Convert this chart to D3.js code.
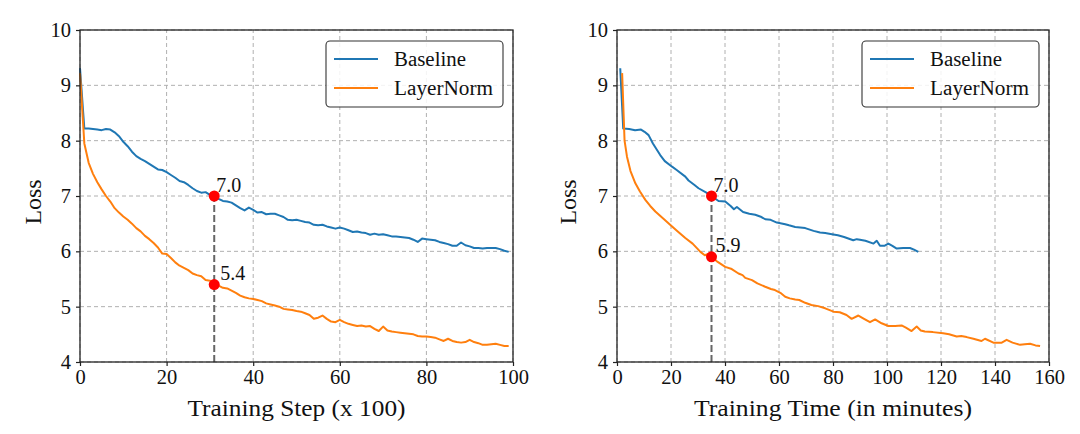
<!DOCTYPE html>
<html>
<head>
<meta charset="utf-8">
<script src="https://cdn.jsdelivr.net/npm/d3@7"></script>
<style>
  html, body { margin: 0; padding: 0; background: #fff; }
  svg { display: block; }
  text { font-family: "Liberation Serif", "Times New Roman", serif; fill: #111; }
</style>
</head>
<body>
<svg id="chart" width="1080" height="434"></svg>
<script>
// ---------------- DATA ----------------
const seriesNames = ["Baseline", "LayerNorm"];
const seriesColors = ["#1f77b4", "#ff7f0e"];
const yTicks = [4, 5, 6, 7, 8, 9, 10];
const stepTicks = [0, 20, 40, 60, 80, 100];
const timeTicks = [0, 20, 40, 60, 80, 100, 120, 140, 160];
const stepLabel = "Training Step (x 100)";
const timeLabel = "Training Time (in minutes)";
const yLabel = "Loss";

// Left panel: loss per step index (x 100)
const baselineByStep = [
  9.31, 8.22, 8.22, 8.21, 8.20, 8.19, 8.21, 8.20, 8.15, 8.08,
  7.98, 7.90, 7.80, 7.72, 7.67, 7.63, 7.58, 7.53, 7.48, 7.47,
  7.43, 7.38, 7.33, 7.27, 7.25, 7.20, 7.14, 7.09, 7.06, 7.07,
  7.02, 7.00, 6.95, 6.91, 6.90, 6.88, 6.83, 6.78, 6.74, 6.79,
  6.75, 6.70, 6.71, 6.67, 6.68, 6.68, 6.65, 6.62, 6.57, 6.56,
  6.57, 6.55, 6.53, 6.52, 6.48, 6.47, 6.48, 6.45, 6.43, 6.41,
  6.43, 6.41, 6.38, 6.35, 6.36, 6.34, 6.33, 6.30, 6.32, 6.30,
  6.31, 6.29, 6.27, 6.27, 6.26, 6.25, 6.24, 6.21, 6.17, 6.23,
  6.22, 6.21, 6.20, 6.17, 6.15, 6.13, 6.10, 6.10, 6.16, 6.11,
  6.09, 6.06, 6.06, 6.05, 6.06, 6.06, 6.06, 6.04, 6.01, 5.99
];
const layerNormByStep = [
  9.22, 7.95, 7.60, 7.40, 7.25, 7.12, 7.00, 6.90, 6.78, 6.70,
  6.63, 6.57, 6.50, 6.42, 6.36, 6.28, 6.22, 6.15, 6.07, 5.96,
  5.95, 5.88, 5.80, 5.74, 5.70, 5.66, 5.60, 5.57, 5.55, 5.48,
  5.47, 5.42, 5.38, 5.34, 5.33, 5.29, 5.25, 5.20, 5.17, 5.15,
  5.14, 5.12, 5.10, 5.06, 5.04, 5.02, 5.00, 4.96, 4.95, 4.94,
  4.92, 4.91, 4.88, 4.85, 4.78, 4.80, 4.84, 4.78, 4.73, 4.72,
  4.76, 4.72, 4.69, 4.67, 4.65, 4.66, 4.64, 4.65, 4.60, 4.56,
  4.64, 4.57, 4.55, 4.54, 4.53, 4.52, 4.51, 4.50, 4.47, 4.46,
  4.46, 4.45, 4.44, 4.41, 4.38, 4.42, 4.38, 4.36, 4.35, 4.36,
  4.40, 4.36, 4.34, 4.31, 4.31, 4.32, 4.33, 4.31, 4.29, 4.29
];

// Right panel: (minutes, loss)
const baselineMinutes = [
  1.2, 2.3, 4.5, 6.7, 8.9, 10.2, 11.7, 13.3, 16.0, 17.7, 20.4, 22.1, 25.3, 26.5, 28.7, 30.2,
  33.1, 35.0, 37.6, 40.1, 42.1, 43.3, 44.4, 46.7, 49.0, 51.2, 53.5, 54.9, 56.9, 59.2,
  62.3, 63.7, 66.0, 69.7, 72.8, 75.2, 77.1, 79.6, 81.8, 84.1, 87.5, 88.8, 90.0, 92.0,
  95.0, 96.2, 97.4, 99.0, 100.5, 102.0, 103.6, 106.0, 108.5, 110.0, 111.6
];
const baselineMinuteLoss = [
  9.31, 8.22, 8.21, 8.19, 8.20, 8.16, 8.10, 7.95, 7.74, 7.63, 7.53, 7.47, 7.35, 7.28, 7.20, 7.14,
  7.06, 7.00, 6.91, 6.90, 6.82, 6.76, 6.80, 6.71, 6.68, 6.66, 6.62, 6.58, 6.57, 6.52,
  6.49, 6.47, 6.44, 6.42, 6.37, 6.34, 6.33, 6.31, 6.29, 6.26, 6.20, 6.22, 6.21, 6.19,
  6.14, 6.19, 6.10, 6.10, 6.14, 6.10, 6.05, 6.06, 6.06, 6.03, 5.99
];
const layerNormMinutes = [
  1.9, 2.8, 3.7, 5.0, 6.8, 8.5, 10.5, 12.3, 14.2, 17.0, 20.4, 22.5, 25.3, 28.0, 30.9,
  32.5, 33.5, 35.0, 37.0, 40.1, 42.5, 45.0, 46.5, 47.5, 50.0, 52.0, 54.9, 57.0, 58.5,
  60.5, 62.3, 64.0, 66.0, 67.5, 69.7, 72.0, 74.5, 77.1, 80.2, 82.5, 85.0, 86.9, 89.4,
  91.5, 93.7, 95.6, 98.0, 100.5, 103.0, 105.4, 107.0, 109.1, 111.0, 112.5, 114.0, 117.0,
  120.8, 123.0, 125.8, 127.5, 129.5, 132.0, 135.0, 136.3, 139.4, 142.5, 144.3, 146.5,
  149.3, 151.0, 153.0, 155.0, 156.7
];
const layerNormMinuteLoss = [
  9.22, 8.00, 7.71, 7.45, 7.23, 7.08, 6.93, 6.82, 6.72, 6.60, 6.45, 6.36, 6.24, 6.14, 5.99,
  5.93, 5.95, 5.90, 5.82, 5.72, 5.68, 5.60, 5.57, 5.52, 5.48, 5.42, 5.36, 5.32, 5.30,
  5.25, 5.18, 5.15, 5.13, 5.12, 5.07, 5.03, 5.01, 4.97, 4.91, 4.90, 4.85, 4.78, 4.84,
  4.78, 4.72, 4.77, 4.70, 4.65, 4.65, 4.66, 4.62, 4.56, 4.64, 4.57, 4.55, 4.54,
  4.52, 4.50, 4.46, 4.47, 4.45, 4.42, 4.38, 4.42, 4.35, 4.35, 4.40, 4.35,
  4.31, 4.32, 4.33, 4.30, 4.29
];

// Annotations
const leftMarkX = 31;
const leftMarkValues = [7.0, 5.4];
const rightMarkX = 35;
const rightMarkValues = [7.0, 5.9];

// ---------------- DRAW ----------------
const svg = d3.select("#chart");

function drawPanel(opt) {
  const x = d3.scaleLinear().domain(opt.xDomain).range([opt.x0, opt.x1]);
  const y = d3.scaleLinear().domain([4, 10]).range([362, 30]);
  const g = svg.append("g");

  // grid
  const grid = g.append("g");
  grid.selectAll("line.gx").data(opt.xTicks).enter().append("line")
    .attr("x1", d => x(d)).attr("x2", d => x(d))
    .attr("y1", y(4)).attr("y2", y(10))
    .attr("stroke", "#b0b0b0").attr("stroke-width", 1).attr("stroke-dasharray", "4,3");
  grid.selectAll("line.gy").data(yTicks).enter().append("line")
    .attr("x1", opt.x0).attr("x2", opt.x1)
    .attr("y1", d => y(d)).attr("y2", d => y(d))
    .attr("stroke", "#b0b0b0").attr("stroke-width", 1).attr("stroke-dasharray", "4,3");

  // lines
  const line = d3.line().x(d => x(d[0])).y(d => y(d[1]));
  opt.series.forEach((s, i) => {
    g.append("path").datum(s).attr("d", line)
      .attr("fill", "none").attr("stroke", seriesColors[i])
      .attr("stroke-width", 2).attr("stroke-linejoin", "round");
  });

  // dashed vertical marker
  g.append("line")
    .attr("x1", x(opt.markX)).attr("x2", x(opt.markX))
    .attr("y1", y(4)).attr("y2", y(d3.max(opt.markValues)))
    .attr("stroke", "#666").attr("stroke-width", 2).attr("stroke-dasharray", "7,3");

  opt.markValues.forEach((v, i) => {
    g.append("circle").attr("cx", x(opt.markX)).attr("cy", y(v)).attr("r", 5.5)
      .attr("fill", "#ff0000");
    g.append("text").attr("x", x(opt.markX) + opt.labelDx[i]).attr("y", y(v) - 4.5)
      .attr("font-size", 20).text(v.toFixed(1));
  });

  // axes
  const xAxis = d3.axisBottom(x).tickValues(opt.xTicks).tickFormat(d3.format("d"))
    .tickSizeOuter(0).tickSize(4).tickPadding(3);
  const yAxis = d3.axisLeft(y).tickValues(yTicks).tickFormat(d3.format("d"))
    .tickSizeOuter(0).tickSize(4).tickPadding(5);
  const gx = g.append("g").attr("transform", "translate(0,362)").call(xAxis);
  const gy = g.append("g").attr("transform", `translate(${opt.x0},0)`).call(yAxis);
  [gx, gy].forEach(a => {
    a.select(".domain").remove();
    a.selectAll("line").attr("stroke", "#222").attr("stroke-width", 1.2);
    a.selectAll("text").attr("font-size", 20.5).attr("fill", "#111")
      .style("font-family", '"Liberation Serif", serif');
  });

  // frame
  g.append("rect").attr("x", opt.x0).attr("y", 30)
    .attr("width", opt.x1 - opt.x0).attr("height", 332)
    .attr("fill", "none").attr("stroke", "#222").attr("stroke-width", 1.3);

  // axis labels
  g.append("text").attr("x", (opt.x0 + opt.x1) / 2).attr("y", 416)
    .attr("text-anchor", "middle").attr("font-size", 23)
    .attr("textLength", opt.xLabelLen).attr("lengthAdjust", "spacingAndGlyphs")
    .text(opt.xLabel);
  g.append("text")
    .attr("transform", `translate(${opt.yLabelX},202) rotate(-90)`)
    .attr("text-anchor", "middle").attr("font-size", 23)
    .attr("textLength", 45).attr("lengthAdjust", "spacingAndGlyphs")
    .text(yLabel);

  // legend
  const lx = opt.x1 - 187, ly = 41;
  g.append("rect").attr("x", lx).attr("y", ly).attr("width", 177).attr("height", 66)
    .attr("rx", 4).attr("fill", "#fff").attr("fill-opacity", 0.85)
    .attr("stroke", "#333").attr("stroke-width", 1.1);
  const legendLens = [72, 99];
  seriesNames.forEach((n, i) => {
    const yy = ly + 18 + i * 29;
    g.append("line").attr("x1", lx + 8).attr("x2", lx + 52)
      .attr("y1", yy).attr("y2", yy)
      .attr("stroke", seriesColors[i]).attr("stroke-width", 2);
    g.append("text").attr("x", lx + 68).attr("y", yy + 7)
      .attr("font-size", 20)
      .attr("textLength", legendLens[i]).attr("lengthAdjust", "spacingAndGlyphs")
      .text(n);
  });
}

drawPanel({
  x0: 80, x1: 513, xDomain: [0, 100], xTicks: stepTicks, xLabel: stepLabel, xLabelLen: 218,
  yLabelX: 41,
  series: [
    baselineByStep.map((v, i) => [i, v]),
    layerNormByStep.map((v, i) => [i, v])
  ],
  markX: leftMarkX, markValues: leftMarkValues, labelDx: [2, 6]
});

drawPanel({
  x0: 617, x1: 1049, xDomain: [0, 160], xTicks: timeTicks, xLabel: timeLabel, xLabelLen: 278,
  yLabelX: 576,
  series: [
    baselineMinutes.map((t, i) => [t, baselineMinuteLoss[i]]),
    layerNormMinutes.map((t, i) => [t, layerNormMinuteLoss[i]])
  ],
  markX: rightMarkX, markValues: rightMarkValues, labelDx: [2, 4]
});
</script>
</body>
</html>
